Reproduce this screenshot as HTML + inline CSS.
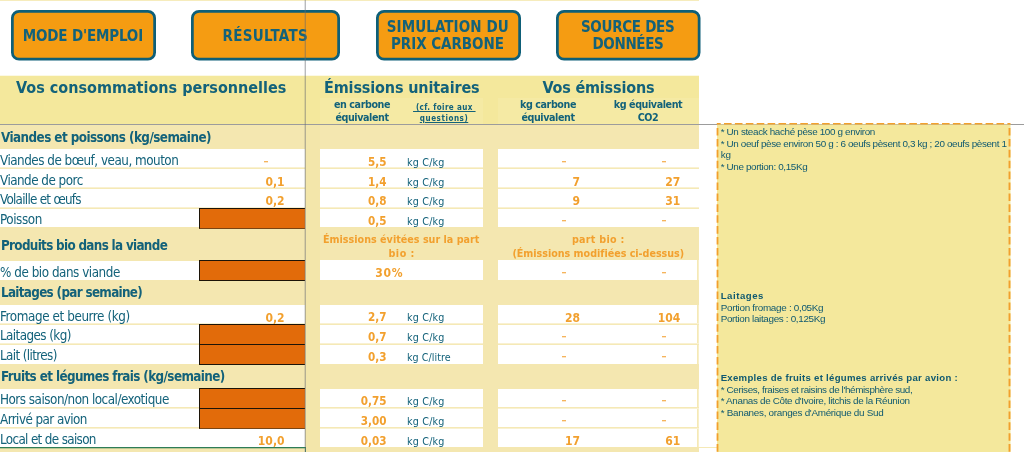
<!DOCTYPE html>
<html lang="fr"><head><meta charset="utf-8"><title>Bilan carbone personnel</title>
<style>
html,body{margin:0;padding:0;background:#fff;}
body{width:1024px;height:452px;position:relative;overflow:hidden;font-family:"DejaVu Sans Condensed", "Liberation Sans", sans-serif;}
body>div{position:absolute;}
.t{white-space:nowrap;}
</style></head><body>
<div style="left:0px;top:0px;width:699px;height:1px;background:#f6ecbc;"></div>
<div style="left:0px;top:75px;width:699px;height:1px;background:#fcf9e4;"></div>
<div style="left:0px;top:76px;width:699px;height:48px;background:#f4e89c;"></div>
<div style="left:320px;top:98px;width:163px;height:26px;background:#f5eaa4;"></div>
<div style="left:498px;top:98px;width:201px;height:26px;background:#f5eaa4;"></div>
<div style="left:0px;top:124px;width:699px;height:328px;background:#f4e7b0;"></div>
<div style="left:306px;top:124px;width:14px;height:328px;background:#f3e6aa;"></div>
<div style="left:483px;top:124px;width:15px;height:328px;background:#f4e7b0;"></div>
<div style="left:0px;top:149px;width:305px;height:78px;background:#fff;"></div>
<div style="left:320px;top:149px;width:163px;height:78px;background:#fff;"></div>
<div style="left:498px;top:149px;width:201px;height:78px;background:#fff;"></div>
<div style="left:0px;top:167px;width:305px;height:1px;background:#f9f1d2;"></div>
<div style="left:0px;top:168px;width:305px;height:1px;background:#f5e9b6;"></div>
<div style="left:320px;top:167px;width:163px;height:1px;background:#f9f1d2;"></div>
<div style="left:320px;top:168px;width:163px;height:1px;background:#f5e9b6;"></div>
<div style="left:498px;top:167px;width:201px;height:1px;background:#f9f1d2;"></div>
<div style="left:498px;top:168px;width:201px;height:1px;background:#f5e9b6;"></div>
<div style="left:0px;top:187px;width:305px;height:1px;background:#f9f1d2;"></div>
<div style="left:0px;top:188px;width:305px;height:1px;background:#f5e9b6;"></div>
<div style="left:320px;top:187px;width:163px;height:1px;background:#f9f1d2;"></div>
<div style="left:320px;top:188px;width:163px;height:1px;background:#f5e9b6;"></div>
<div style="left:498px;top:187px;width:201px;height:1px;background:#f9f1d2;"></div>
<div style="left:498px;top:188px;width:201px;height:1px;background:#f5e9b6;"></div>
<div style="left:0px;top:207px;width:305px;height:1px;background:#f9f1d2;"></div>
<div style="left:0px;top:208px;width:305px;height:1px;background:#f5e9b6;"></div>
<div style="left:320px;top:207px;width:163px;height:1px;background:#f9f1d2;"></div>
<div style="left:320px;top:208px;width:163px;height:1px;background:#f5e9b6;"></div>
<div style="left:498px;top:207px;width:201px;height:1px;background:#f9f1d2;"></div>
<div style="left:498px;top:208px;width:201px;height:1px;background:#f5e9b6;"></div>
<div style="left:0px;top:261px;width:305px;height:19px;background:#fff;"></div>
<div style="left:320px;top:260px;width:163px;height:20px;background:#fff;"></div>
<div style="left:498px;top:260px;width:201px;height:20px;background:#fff;"></div>
<div style="left:697px;top:260px;width:1px;height:20px;background:#f5e9b6;"></div>
<div style="left:698px;top:260px;width:1px;height:20px;background:#f8efc9;"></div>
<div style="left:0px;top:305px;width:305px;height:59px;background:#fff;"></div>
<div style="left:320px;top:305px;width:163px;height:59px;background:#fff;"></div>
<div style="left:498px;top:305px;width:201px;height:59px;background:#fff;"></div>
<div style="left:697px;top:305px;width:1px;height:59px;background:#f5e9b6;"></div>
<div style="left:698px;top:305px;width:1px;height:59px;background:#f8efc9;"></div>
<div style="left:0px;top:323px;width:305px;height:1px;background:#f9f1d2;"></div>
<div style="left:0px;top:324px;width:305px;height:1px;background:#f5e9b6;"></div>
<div style="left:320px;top:323px;width:163px;height:1px;background:#f9f1d2;"></div>
<div style="left:320px;top:324px;width:163px;height:1px;background:#f5e9b6;"></div>
<div style="left:498px;top:323px;width:201px;height:1px;background:#f9f1d2;"></div>
<div style="left:498px;top:324px;width:201px;height:1px;background:#f5e9b6;"></div>
<div style="left:0px;top:343px;width:305px;height:1px;background:#f9f1d2;"></div>
<div style="left:0px;top:344px;width:305px;height:1px;background:#f5e9b6;"></div>
<div style="left:320px;top:343px;width:163px;height:1px;background:#f9f1d2;"></div>
<div style="left:320px;top:344px;width:163px;height:1px;background:#f5e9b6;"></div>
<div style="left:498px;top:343px;width:201px;height:1px;background:#f9f1d2;"></div>
<div style="left:498px;top:344px;width:201px;height:1px;background:#f5e9b6;"></div>
<div style="left:0px;top:389px;width:305px;height:58px;background:#fff;"></div>
<div style="left:320px;top:389px;width:163px;height:58px;background:#fff;"></div>
<div style="left:498px;top:389px;width:201px;height:58px;background:#fff;"></div>
<div style="left:697px;top:389px;width:1px;height:58px;background:#f5e9b6;"></div>
<div style="left:698px;top:389px;width:1px;height:58px;background:#f8efc9;"></div>
<div style="left:0px;top:407px;width:305px;height:1px;background:#f5e9b6;"></div>
<div style="left:0px;top:408px;width:305px;height:1px;background:#f9f1d2;"></div>
<div style="left:320px;top:407px;width:163px;height:1px;background:#f5e9b6;"></div>
<div style="left:320px;top:408px;width:163px;height:1px;background:#f9f1d2;"></div>
<div style="left:498px;top:407px;width:201px;height:1px;background:#f5e9b6;"></div>
<div style="left:498px;top:408px;width:201px;height:1px;background:#f9f1d2;"></div>
<div style="left:0px;top:427px;width:305px;height:1px;background:#f5e9b6;"></div>
<div style="left:0px;top:428px;width:305px;height:1px;background:#f9f1d2;"></div>
<div style="left:320px;top:427px;width:163px;height:1px;background:#f5e9b6;"></div>
<div style="left:320px;top:428px;width:163px;height:1px;background:#f9f1d2;"></div>
<div style="left:498px;top:427px;width:201px;height:1px;background:#f5e9b6;"></div>
<div style="left:498px;top:428px;width:201px;height:1px;background:#f9f1d2;"></div>
<div style="left:699px;top:447px;width:18px;height:1px;background:#f5e9b6;"></div>
<div style="left:0px;top:447px;width:306px;height:1px;background:#2f7d57;"></div>
<div style="left:0px;top:448px;width:306px;height:1px;background:rgba(47,125,87,0.3);"></div>
<div style="left:305px;top:448px;width:1px;height:4px;background:#4a8a68;"></div>
<div style="left:199px;top:208px;width:106px;height:21px;background:#e26b0a;border:1px solid #1c1408;border-bottom-color:#7a4514;border-right:none;box-sizing:border-box;"></div>
<div style="left:199px;top:260px;width:106px;height:21px;background:#e26b0a;border:1px solid #1c1408;border-bottom-color:#1c1408;border-right:none;box-sizing:border-box;"></div>
<div style="left:199px;top:324px;width:106px;height:21px;background:#e26b0a;border:1px solid #1c1408;border-bottom-color:#1c1408;border-right:none;box-sizing:border-box;"></div>
<div style="left:199px;top:344px;width:106px;height:21px;background:#e26b0a;border:1px solid #1c1408;border-bottom-color:#1c1408;border-right:none;box-sizing:border-box;"></div>
<div style="left:199px;top:388px;width:106px;height:21px;background:#e26b0a;border:1px solid #1c1408;border-bottom-color:#1c1408;border-right:none;box-sizing:border-box;"></div>
<div style="left:199px;top:408px;width:106px;height:21px;background:#e26b0a;border:1px solid #1c1408;border-bottom-color:#7a4514;border-right:none;box-sizing:border-box;"></div>
<svg style="position:absolute;left:0;top:0" width="1024" height="452" viewBox="0 0 1024 452"><rect x="0" y="124" width="1024" height="1" fill="#9c9c9c"/><rect x="717" y="124.5" width="293.5" height="340" fill="#f4e89c"/><g stroke="#f2a02c" fill="none" stroke-dasharray="7.6 3.3"><line x1="716.8" y1="123.7" x2="1010.5" y2="123.7" stroke-width="1.5" stroke-dashoffset="3.7"/><line x1="717.5" y1="124.4" x2="717.5" y2="460" stroke-width="1.8" stroke-dashoffset="7.3"/><line x1="1009.5" y1="124.4" x2="1009.5" y2="460" stroke-width="1.9" stroke-dashoffset="7.3"/></g></svg>
<svg style="position:absolute;left:0;top:0" width="1024" height="80" viewBox="0 0 1024 80"><rect x="12.375" y="11.375" width="142.25" height="47.85" rx="6.7" ry="6.7" fill="#f59c12" stroke="#0e5f78" stroke-width="2.75"/></svg>
<div class="t" style="top:27.30px;font-size:15px;line-height:18px;color:#13627a;font-weight:bold;letter-spacing:-0.167px;left:-117.15px;width:400px;text-align:center;">MODE D'EMPLOI</div>
<svg style="position:absolute;left:0;top:0" width="1024" height="80" viewBox="0 0 1024 80"><rect x="192.375" y="11.375" width="146.25" height="47.85" rx="6.7" ry="6.7" fill="#f59c12" stroke="#0e5f78" stroke-width="2.75"/></svg>
<div class="t" style="top:27.30px;font-size:15px;line-height:18px;color:#13627a;font-weight:bold;letter-spacing:0.322px;left:65.22500000000002px;width:400px;text-align:center;">RÉSULTATS</div>
<svg style="position:absolute;left:0;top:0" width="1024" height="80" viewBox="0 0 1024 80"><rect x="377.375" y="11.375" width="142.25" height="47.85" rx="6.7" ry="6.7" fill="#f59c12" stroke="#0e5f78" stroke-width="2.75"/></svg>
<div class="t" style="top:18.30px;font-size:15px;line-height:18px;color:#13627a;font-weight:bold;letter-spacing:0.103px;left:247.8px;width:400px;text-align:center;">SIMULATION DU</div>
<div class="t" style="top:35.30px;font-size:15px;line-height:18px;color:#13627a;font-weight:bold;letter-spacing:-0.035px;left:247.5px;width:400px;text-align:center;">PRIX CARBONE</div>
<svg style="position:absolute;left:0;top:0" width="1024" height="80" viewBox="0 0 1024 80"><rect x="557.375" y="11.375" width="141.75" height="47.85" rx="6.7" ry="6.7" fill="#f59c12" stroke="#0e5f78" stroke-width="2.75"/></svg>
<div class="t" style="top:18.30px;font-size:15px;line-height:18px;color:#13627a;font-weight:bold;letter-spacing:-0.292px;left:427.70000000000005px;width:400px;text-align:center;">SOURCE DES</div>
<div class="t" style="top:35.30px;font-size:15px;line-height:18px;color:#13627a;font-weight:bold;letter-spacing:-0.348px;left:428.0px;width:400px;text-align:center;">DONNÉES</div>
<div class="t" style="top:78.30px;font-size:16px;line-height:19px;color:#13627a;font-weight:bold;letter-spacing:0.003px;left:16px;">Vos consommations personnelles</div>
<div class="t" style="top:78.30px;font-size:16px;line-height:19px;color:#13627a;font-weight:bold;letter-spacing:-0.13px;left:201.75px;width:400px;text-align:center;">Émissions unitaires</div>
<div class="t" style="top:78.30px;font-size:16px;line-height:19px;color:#13627a;font-weight:bold;letter-spacing:-0.17px;left:398.4px;width:400px;text-align:center;">Vos émissions</div>
<div class="t" style="top:98.30px;font-size:10.67px;line-height:13px;color:#13627a;font-weight:bold;letter-spacing:-0.43px;left:162.0px;width:400px;text-align:center;">en carbone</div>
<div class="t" style="top:111.30px;font-size:10.67px;line-height:13px;color:#13627a;font-weight:bold;letter-spacing:-0.43px;left:162.0px;width:400px;text-align:center;">équivalent</div>
<div class="t" style="top:102.80px;font-size:8px;line-height:10px;color:#13627a;font-weight:bold;letter-spacing:0.369px;left:244.3px;width:400px;text-align:center;text-underline-offset:0.5px;"><u>&nbsp;(cf. foire aux&nbsp;</u></div>
<div class="t" style="top:113.80px;font-size:8px;line-height:10px;color:#13627a;font-weight:bold;letter-spacing:0.55px;left:244.0px;width:400px;text-align:center;text-underline-offset:0.5px;"><u>questions)</u></div>
<div class="t" style="top:98.30px;font-size:10.67px;line-height:13px;color:#13627a;font-weight:bold;letter-spacing:-0.43px;left:348.0px;width:400px;text-align:center;">kg carbone</div>
<div class="t" style="top:111.30px;font-size:10.67px;line-height:13px;color:#13627a;font-weight:bold;letter-spacing:-0.43px;left:348.0px;width:400px;text-align:center;">équivalent</div>
<div class="t" style="top:98.30px;font-size:10.67px;line-height:13px;color:#13627a;font-weight:bold;letter-spacing:-0.43px;left:448.0px;width:400px;text-align:center;">kg équivalent</div>
<div class="t" style="top:111.30px;font-size:10.67px;line-height:13px;color:#13627a;font-weight:bold;letter-spacing:-0.43px;left:448.0px;width:400px;text-align:center;">CO2</div>
<div class="t" style="top:129.80px;font-size:13.33px;line-height:16px;color:#13627a;font-weight:bold;letter-spacing:-0.556px;left:1px;">Viandes et poissons (kg/semaine)</div>
<div class="t" style="top:237.80px;font-size:13.33px;line-height:16px;color:#13627a;font-weight:bold;letter-spacing:-0.681px;left:1px;">Produits bio dans la viande</div>
<div class="t" style="top:284.80px;font-size:13.33px;line-height:16px;color:#13627a;font-weight:bold;letter-spacing:-0.679px;left:1px;">Laitages (par semaine)</div>
<div class="t" style="top:368.80px;font-size:13.33px;line-height:16px;color:#13627a;font-weight:bold;letter-spacing:-0.607px;left:1px;">Fruits et légumes frais (kg/semaine)</div>
<div class="t" style="top:233.30px;font-size:10.67px;line-height:13px;color:#f2a02e;font-weight:bold;letter-spacing:0.014px;left:201.2px;width:400px;text-align:center;">Émissions évitées sur la part</div>
<div class="t" style="top:247.30px;font-size:10.67px;line-height:13px;color:#f2a02e;font-weight:bold;letter-spacing:0.479px;left:201.7px;width:400px;text-align:center;">bio :</div>
<div class="t" style="top:233.30px;font-size:10.67px;line-height:13px;color:#f2a02e;font-weight:bold;letter-spacing:0.281px;left:398.29999999999995px;width:400px;text-align:center;">part bio :</div>
<div class="t" style="top:247.30px;font-size:10.67px;line-height:13px;color:#f2a02e;font-weight:bold;letter-spacing:-0.016px;left:398.29999999999995px;width:400px;text-align:center;">(Émissions modifiées ci-dessus)</div>
<div class="t" style="top:152.80px;font-size:13.33px;line-height:16px;color:#13627a;font-weight:normal;letter-spacing:-0.495px;left:0px;">Viandes de bœuf, veau, mouton</div>
<div style="left:263.8px;top:161px;width:4.5px;height:1px;background:#f5b45c;"></div>
<div style="left:263.8px;top:162px;width:4.5px;height:1px;background:rgba(245,180,92,0.35);"></div>
<div class="t" style="top:155.30px;font-size:11.6px;line-height:14px;color:#f2a02e;font-weight:bold;right:637.6px;text-align:right;">5,5</div>
<div class="t" style="top:156.30px;font-size:10.67px;line-height:13px;color:#13627a;font-weight:normal;letter-spacing:0.191px;left:407px;">kg C/kg</div>
<div style="left:561.7px;top:161px;width:4.5px;height:1px;background:#f5b45c;"></div>
<div style="left:561.7px;top:162px;width:4.5px;height:1px;background:rgba(245,180,92,0.35);"></div>
<div style="left:661.7px;top:161px;width:4.5px;height:1px;background:#f5b45c;"></div>
<div style="left:661.7px;top:162px;width:4.5px;height:1px;background:rgba(245,180,92,0.35);"></div>
<div class="t" style="top:172.80px;font-size:13.33px;line-height:16px;color:#13627a;font-weight:normal;letter-spacing:-0.519px;left:0px;">Viande de porc</div>
<div class="t" style="top:175.30px;font-size:12px;line-height:14px;color:#f2a02e;font-weight:bold;letter-spacing:0.05px;right:739.4px;text-align:right;margin-right:-0.05px;">0,1</div>
<div class="t" style="top:175.30px;font-size:11.6px;line-height:14px;color:#f2a02e;font-weight:bold;right:637.6px;text-align:right;">1,4</div>
<div class="t" style="top:176.30px;font-size:10.67px;line-height:13px;color:#13627a;font-weight:normal;letter-spacing:0.191px;left:407px;">kg C/kg</div>
<div class="t" style="top:175.30px;font-size:12px;line-height:14px;color:#f2a02e;font-weight:bold;letter-spacing:0.05px;right:443.9px;text-align:right;margin-right:-0.05px;">7</div>
<div class="t" style="top:175.30px;font-size:12px;line-height:14px;color:#f2a02e;font-weight:bold;letter-spacing:0.05px;right:343.70000000000005px;text-align:right;margin-right:-0.05px;">27</div>
<div class="t" style="top:191.80px;font-size:13.33px;line-height:16px;color:#13627a;font-weight:normal;letter-spacing:-0.737px;left:0px;">Volaille et œufs</div>
<div class="t" style="top:194.30px;font-size:12px;line-height:14px;color:#f2a02e;font-weight:bold;letter-spacing:0.05px;right:739.4px;text-align:right;margin-right:-0.05px;">0,2</div>
<div class="t" style="top:194.30px;font-size:11.6px;line-height:14px;color:#f2a02e;font-weight:bold;right:637.6px;text-align:right;">0,8</div>
<div class="t" style="top:195.30px;font-size:10.67px;line-height:13px;color:#13627a;font-weight:normal;letter-spacing:0.191px;left:407px;">kg C/kg</div>
<div class="t" style="top:194.30px;font-size:12px;line-height:14px;color:#f2a02e;font-weight:bold;letter-spacing:0.05px;right:443.9px;text-align:right;margin-right:-0.05px;">9</div>
<div class="t" style="top:194.30px;font-size:12px;line-height:14px;color:#f2a02e;font-weight:bold;letter-spacing:0.05px;right:343.70000000000005px;text-align:right;margin-right:-0.05px;">31</div>
<div class="t" style="top:211.80px;font-size:13.33px;line-height:16px;color:#13627a;font-weight:normal;letter-spacing:-0.437px;left:0px;">Poisson</div>
<div class="t" style="top:214.30px;font-size:11.6px;line-height:14px;color:#f2a02e;font-weight:bold;right:637.6px;text-align:right;">0,5</div>
<div class="t" style="top:215.30px;font-size:10.67px;line-height:13px;color:#13627a;font-weight:normal;letter-spacing:0.191px;left:407px;">kg C/kg</div>
<div style="left:561.7px;top:220px;width:4.5px;height:1px;background:#f5b45c;"></div>
<div style="left:561.7px;top:221px;width:4.5px;height:1px;background:rgba(245,180,92,0.35);"></div>
<div style="left:661.7px;top:220px;width:4.5px;height:1px;background:#f5b45c;"></div>
<div style="left:661.7px;top:221px;width:4.5px;height:1px;background:rgba(245,180,92,0.35);"></div>
<div class="t" style="top:264.80px;font-size:13.33px;line-height:16px;color:#13627a;font-weight:normal;letter-spacing:-0.464px;left:0px;">% de bio dans viande</div>
<div class="t" style="top:266.30px;font-size:12px;line-height:14px;color:#f2a02e;font-weight:bold;letter-spacing:0.652px;right:621.5px;text-align:right;margin-right:-0.652px;">30%</div>
<div style="left:561.7px;top:272px;width:4.5px;height:1px;background:#f5b45c;"></div>
<div style="left:561.7px;top:273px;width:4.5px;height:1px;background:rgba(245,180,92,0.35);"></div>
<div style="left:661.7px;top:272px;width:4.5px;height:1px;background:#f5b45c;"></div>
<div style="left:661.7px;top:273px;width:4.5px;height:1px;background:rgba(245,180,92,0.35);"></div>
<div class="t" style="top:308.80px;font-size:13.33px;line-height:16px;color:#13627a;font-weight:normal;letter-spacing:-0.402px;left:0px;">Fromage et beurre (kg)</div>
<div class="t" style="top:311.30px;font-size:12px;line-height:14px;color:#f2a02e;font-weight:bold;letter-spacing:0.05px;right:739.4px;text-align:right;margin-right:-0.05px;">0,2</div>
<div class="t" style="top:310.30px;font-size:11.6px;line-height:14px;color:#f2a02e;font-weight:bold;right:637.6px;text-align:right;">2,7</div>
<div class="t" style="top:311.30px;font-size:10.67px;line-height:13px;color:#13627a;font-weight:normal;letter-spacing:0.191px;left:407px;">kg C/kg</div>
<div class="t" style="top:311.30px;font-size:12px;line-height:14px;color:#f2a02e;font-weight:bold;letter-spacing:0.05px;right:443.9px;text-align:right;margin-right:-0.05px;">28</div>
<div class="t" style="top:311.30px;font-size:12px;line-height:14px;color:#f2a02e;font-weight:bold;letter-spacing:0.05px;right:343.70000000000005px;text-align:right;margin-right:-0.05px;">104</div>
<div class="t" style="top:327.80px;font-size:13.33px;line-height:16px;color:#13627a;font-weight:normal;letter-spacing:-0.583px;left:0px;">Laitages (kg)</div>
<div class="t" style="top:330.30px;font-size:11.6px;line-height:14px;color:#f2a02e;font-weight:bold;right:637.6px;text-align:right;">0,7</div>
<div class="t" style="top:331.30px;font-size:10.67px;line-height:13px;color:#13627a;font-weight:normal;letter-spacing:0.191px;left:407px;">kg C/kg</div>
<div style="left:561.7px;top:336px;width:4.5px;height:1px;background:#f5b45c;"></div>
<div style="left:561.7px;top:337px;width:4.5px;height:1px;background:rgba(245,180,92,0.35);"></div>
<div style="left:661.7px;top:336px;width:4.5px;height:1px;background:#f5b45c;"></div>
<div style="left:661.7px;top:337px;width:4.5px;height:1px;background:rgba(245,180,92,0.35);"></div>
<div class="t" style="top:347.80px;font-size:13.33px;line-height:16px;color:#13627a;font-weight:normal;letter-spacing:-0.62px;left:0px;">Lait (litres)</div>
<div class="t" style="top:350.30px;font-size:11.6px;line-height:14px;color:#f2a02e;font-weight:bold;right:637.6px;text-align:right;">0,3</div>
<div class="t" style="top:351.30px;font-size:10.67px;line-height:13px;color:#13627a;font-weight:normal;letter-spacing:0.029px;left:407px;">kg C/litre</div>
<div style="left:561.7px;top:356px;width:4.5px;height:1px;background:#f5b45c;"></div>
<div style="left:561.7px;top:357px;width:4.5px;height:1px;background:rgba(245,180,92,0.35);"></div>
<div style="left:661.7px;top:356px;width:4.5px;height:1px;background:#f5b45c;"></div>
<div style="left:661.7px;top:357px;width:4.5px;height:1px;background:rgba(245,180,92,0.35);"></div>
<div class="t" style="top:391.80px;font-size:13.33px;line-height:16px;color:#13627a;font-weight:normal;letter-spacing:-0.494px;left:0px;">Hors saison/non local/exotique</div>
<div class="t" style="top:394.30px;font-size:11.6px;line-height:14px;color:#f2a02e;font-weight:bold;right:637.6px;text-align:right;">0,75</div>
<div class="t" style="top:395.30px;font-size:10.67px;line-height:13px;color:#13627a;font-weight:normal;letter-spacing:0.191px;left:407px;">kg C/kg</div>
<div style="left:561.7px;top:400px;width:4.5px;height:1px;background:#f5b45c;"></div>
<div style="left:561.7px;top:401px;width:4.5px;height:1px;background:rgba(245,180,92,0.35);"></div>
<div style="left:661.7px;top:400px;width:4.5px;height:1px;background:#f5b45c;"></div>
<div style="left:661.7px;top:401px;width:4.5px;height:1px;background:rgba(245,180,92,0.35);"></div>
<div class="t" style="top:411.80px;font-size:13.33px;line-height:16px;color:#13627a;font-weight:normal;letter-spacing:-0.565px;left:0px;">Arrivé par avion</div>
<div class="t" style="top:414.30px;font-size:11.6px;line-height:14px;color:#f2a02e;font-weight:bold;right:637.6px;text-align:right;">3,00</div>
<div class="t" style="top:415.30px;font-size:10.67px;line-height:13px;color:#13627a;font-weight:normal;letter-spacing:0.191px;left:407px;">kg C/kg</div>
<div style="left:561.7px;top:420px;width:4.5px;height:1px;background:#f5b45c;"></div>
<div style="left:561.7px;top:421px;width:4.5px;height:1px;background:rgba(245,180,92,0.35);"></div>
<div style="left:661.7px;top:420px;width:4.5px;height:1px;background:#f5b45c;"></div>
<div style="left:661.7px;top:421px;width:4.5px;height:1px;background:rgba(245,180,92,0.35);"></div>
<div class="t" style="top:431.80px;font-size:13.33px;line-height:16px;color:#13627a;font-weight:normal;letter-spacing:-0.659px;left:0px;">Local et de saison</div>
<div class="t" style="top:434.30px;font-size:12px;line-height:14px;color:#f2a02e;font-weight:bold;letter-spacing:0.05px;right:739.4px;text-align:right;margin-right:-0.05px;">10,0</div>
<div class="t" style="top:434.30px;font-size:11.6px;line-height:14px;color:#f2a02e;font-weight:bold;right:637.6px;text-align:right;">0,03</div>
<div class="t" style="top:435.30px;font-size:10.67px;line-height:13px;color:#13627a;font-weight:normal;letter-spacing:0.191px;left:407px;">kg C/kg</div>
<div class="t" style="top:434.30px;font-size:12px;line-height:14px;color:#f2a02e;font-weight:bold;letter-spacing:0.05px;right:443.9px;text-align:right;margin-right:-0.05px;">17</div>
<div class="t" style="top:434.30px;font-size:12px;line-height:14px;color:#f2a02e;font-weight:bold;letter-spacing:0.05px;right:343.70000000000005px;text-align:right;margin-right:-0.05px;">61</div>
<div class="t" style="top:126.30px;font-size:9.9px;line-height:11px;color:#0f5970;font-weight:normal;letter-spacing:-0.35px;left:720.7px;font-family:'Liberation Sans',sans-serif;">* Un steack haché pèse 100 g environ</div>
<div class="t" style="top:138.30px;font-size:9.9px;line-height:11px;color:#0f5970;font-weight:normal;letter-spacing:-0.365px;left:720.7px;font-family:'Liberation Sans',sans-serif;">* Un oeuf pèse environ 50 g : 6 oeufs pèsent 0,3 kg ; 20 oeufs pèsent 1</div>
<div class="t" style="top:149.30px;font-size:9.9px;line-height:11px;color:#0f5970;font-weight:normal;letter-spacing:-0.069px;left:720.7px;font-family:'Liberation Sans',sans-serif;">kg</div>
<div class="t" style="top:161.30px;font-size:9.9px;line-height:11px;color:#0f5970;font-weight:normal;letter-spacing:-0.373px;left:720.7px;font-family:'Liberation Sans',sans-serif;">* Une portion: 0,15Kg</div>
<div class="t" style="top:290.30px;font-size:9.6px;line-height:11px;color:#0f5970;font-weight:bold;letter-spacing:0.533px;left:720.7px;font-family:'Liberation Sans',sans-serif;">Laitages</div>
<div class="t" style="top:302.30px;font-size:9.9px;line-height:11px;color:#0f5970;font-weight:normal;letter-spacing:-0.3px;left:720.7px;font-family:'Liberation Sans',sans-serif;">Portion fromage : 0,05Kg</div>
<div class="t" style="top:313.30px;font-size:9.9px;line-height:11px;color:#0f5970;font-weight:normal;letter-spacing:-0.331px;left:720.7px;font-family:'Liberation Sans',sans-serif;">Portion laitages : 0,125Kg</div>
<div class="t" style="top:372.30px;font-size:9.6px;line-height:11px;color:#0f5970;font-weight:bold;letter-spacing:0.283px;left:720.7px;font-family:'Liberation Sans',sans-serif;">Exemples de fruits et légumes arrivés par avion :</div>
<div class="t" style="top:384.30px;font-size:9.9px;line-height:11px;color:#0f5970;font-weight:normal;letter-spacing:-0.377px;left:720.7px;font-family:'Liberation Sans',sans-serif;">* Cerises, fraises et raisins de l'hémisphère sud,</div>
<div class="t" style="top:395.30px;font-size:9.9px;line-height:11px;color:#0f5970;font-weight:normal;letter-spacing:-0.333px;left:720.7px;font-family:'Liberation Sans',sans-serif;">* Ananas de Côte d'Ivoire, litchis de la Réunion</div>
<div class="t" style="top:407.30px;font-size:9.9px;line-height:11px;color:#0f5970;font-weight:normal;letter-spacing:-0.291px;left:720.7px;font-family:'Liberation Sans',sans-serif;">* Bananes, oranges d'Amérique du Sud</div>
<div style="left:304px;top:0px;width:1px;height:452px;background:rgba(110,115,120,0.2);"></div>
<div style="left:305px;top:0px;width:1px;height:452px;background:rgba(100,105,110,0.45);"></div>
</body></html>
